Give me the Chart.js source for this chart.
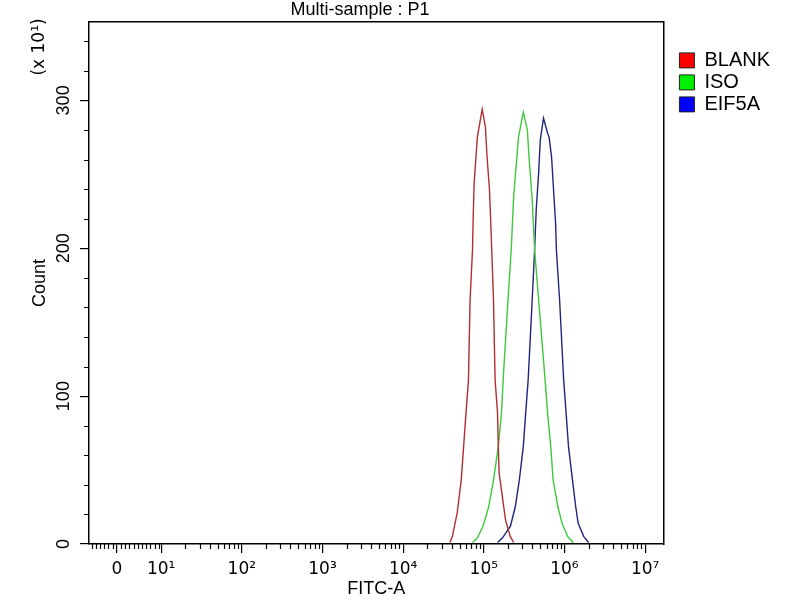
<!DOCTYPE html>
<html>
<head>
<meta charset="utf-8">
<title>Multi-sample : P1</title>
<script src="https://cdn.jsdelivr.net/npm/chart.js@4.4.0/dist/chart.umd.min.js"></script>
<style>
  html, body { margin: 0; padding: 0; background: #fff; }
  #wrap { width: 800px; height: 600px; }
</style>
</head>
<body>
<div id="wrap"><canvas id="flow"></canvas></div>
<script>
// x = position on the FITC-A axis in decades (log10), y = count (x 10^1)
const seriesNames = ["BLANK", "ISO", "EIF5A"];

const blankX = [4.58, 4.61, 4.67, 4.72, 4.75, 4.78, 4.81, 4.83, 4.86, 4.87, 4.88, 4.92, 4.98,
                5.02, 5.04, 5.07, 5.09, 5.12, 5.14, 5.17, 5.18, 5.19, 5.23, 5.27, 5.33, 5.37];
const blankY = [1, 5, 21, 43, 66, 89, 111, 165, 199, 224, 244, 275, 294,
                282, 262, 240, 212, 165, 111, 89, 66, 48, 32, 16, 5, 1];

const isoX = [4.86, 4.92, 4.99, 5.06, 5.12, 5.18, 5.22, 5.24, 5.30, 5.34, 5.37, 5.43, 5.49,
              5.54, 5.56, 5.60, 5.63, 5.68, 5.76, 5.79, 5.83, 5.86, 5.92, 5.97, 6.04, 6.11];
const isoY = [1, 4, 12, 25, 43, 66, 89, 111, 165, 199, 235, 275, 292,
              280, 262, 233, 199, 165, 111, 89, 66, 43, 25, 14, 5, 1];

const eifX = [5.17, 5.23, 5.33, 5.39, 5.44, 5.49, 5.52, 5.55, 5.60, 5.63, 5.65, 5.68, 5.70, 5.74,
              5.76, 5.79, 5.81, 5.84, 5.86, 5.89, 5.90, 5.94, 5.99, 6.02, 6.05, 6.10, 6.14, 6.17, 6.24, 6.30];
const eifY = [1, 4, 12, 25, 43, 66, 89, 111, 165, 199, 226, 251, 273, 288,
              284, 278, 275, 262, 244, 217, 199, 165, 111, 89, 66, 43, 25, 14, 5, 1];

const xTickPos = [0.45, 1, 2, 3, 4, 5, 6, 7];
const xTickLabels = ["0", "10¹", "10²", "10³", "10⁴", "10⁵", "10⁶", "10⁷"];
const yTickPos = [0, 100, 200, 300];
const yTickLabels = ["0", "100", "200", "300"];

const lineColors = ["#b02e2e", "#3dc93d", "#23237f"];
const boxColors = ["#ff0000", "#00ee00", "#0000ff"];

const FONT = "'Liberation Sans', Arial, sans-serif";
const SUP_FONT = "'DejaVu Sans', 'Liberation Sans', sans-serif";
Chart.defaults.font.family = FONT;
Chart.defaults.color = "#000";

// minor tick positions (short ticks)
const xMinor = [];
for (let k = -6; k <= 10; k++) if (k !== 0) xMinor.push(0.45 + k * 0.052);
for (let d = 1; d <= 6; d++) for (let m = 2; m <= 9; m++) xMinor.push(d + Math.log10(m));
const yMinor = [];
for (let v = 20; v <= 340; v += 20) if (v % 100 !== 0) yMinor.push(v);

const pts = (xs, ys) => xs.map((x, i) => ({ x: x, y: ys[i] }));

// short ticks + title texts
const frameExtras = {
    id: "frameExtras",
    afterDraw(chart) {
        const { ctx, chartArea: a, scales: { x, y } } = chart;
        ctx.save();
        ctx.strokeStyle = "#000";
        ctx.lineWidth = 1.2;
        ctx.beginPath();
        xMinor.forEach(v => {
            const px = Math.round(x.getPixelForValue(v)) + 0.5;
            ctx.moveTo(px, a.bottom);
            ctx.lineTo(px, a.bottom + 5);
        });
        yMinor.forEach(v => {
            const py = Math.round(y.getPixelForValue(v)) + 0.5;
            ctx.moveTo(a.left - 5, py);
            ctx.lineTo(a.left, py);
        });
        ctx.stroke();

        ctx.fillStyle = "#000";
        ctx.font = "18px " + FONT;
        ctx.textAlign = "center";
        ctx.textBaseline = "alphabetic";
        ctx.fillText("Multi-sample : P1", 360, 15);

        ctx.translate(40, 47);
        ctx.rotate(-Math.PI / 2);
        ctx.textBaseline = "middle";
        ctx.font = "17px " + SUP_FONT;
        ctx.fillText("(x 10¹)", 0, 0);
        ctx.restore();
    }
};

const sideAxis = (pos, fit) => ({
    type: "linear",
    position: pos,
    afterFit: fit,
    ticks: { display: false },
    grid: { display: false, drawTicks: false },
    border: { display: true, color: "#000", width: 1.5 }
});

new Chart(document.getElementById("flow"), {
    type: "line",
    data: {
        datasets: [
            { label: seriesNames[0], data: pts(blankX, blankY), borderColor: lineColors[0], backgroundColor: boxColors[0] },
            { label: seriesNames[1], data: pts(isoX, isoY), borderColor: lineColors[1], backgroundColor: boxColors[1] },
            { label: seriesNames[2], data: pts(eifX, eifY), borderColor: lineColors[2], backgroundColor: boxColors[2] }
        ]
    },
    options: {
        responsive: true,
        maintainAspectRatio: false,
        animation: false,
        layout: { padding: { top: 22, right: 20, bottom: 0, left: 0 } },
        elements: {
            point: { radius: 0 },
            line: { borderWidth: 1.4, tension: 0, fill: false }
        },
        scales: {
            x: {
                type: "linear",
                position: "bottom",
                min: 0.105,
                max: 7.227,
                afterBuildTicks: s => { s.ticks = xTickPos.map(v => ({ value: v })); },
                afterFit: s => { s.height = 56; },
                ticks: {
                    callback: (v, i) => xTickLabels[i],
                    autoSkip: false,
                    maxRotation: 0,
                    padding: 6,
                    font: { family: SUP_FONT, size: 17 }
                },
                grid: { display: true, drawOnChartArea: false, tickLength: 9, color: "#000", lineWidth: 1.2 },
                border: { display: true, color: "#000", width: 1.5 },
                title: { display: true, text: "FITC-A", font: { size: 18 }, padding: { top: 0, bottom: 0 } }
            },
            y: {
                type: "linear",
                position: "left",
                min: 0,
                max: 353,
                afterBuildTicks: s => { s.ticks = yTickPos.map(v => ({ value: v })); },
                afterFit: s => { s.width = 89; },
                ticks: {
                    callback: (v, i) => yTickLabels[i],
                    minRotation: 90,
                    maxRotation: 90,
                    crossAlign: "center",
                    padding: 1,
                    font: { size: 18 }
                },
                grid: { display: true, drawOnChartArea: false, tickLength: 9, color: "#000", lineWidth: 1.2 },
                border: { display: true, color: "#000", width: 1.5 },
                title: { display: true, text: "Count", font: { size: 18 }, padding: { top: 29, bottom: 0 } }
            },
            x2: sideAxis("top", s => { s.height = 0; }),
            y2: sideAxis("right", s => { s.width = 14; })
        },
        plugins: {
            legend: {
                position: "right",
                align: "start",
                title: { display: true, text: " ", padding: { top: 12, bottom: 0 } },
                labels: {
                    boxWidth: 15,
                    boxHeight: 15,
                    padding: 2,
                    color: "#000",
                    font: { size: 20 },
                    generateLabels: chart => chart.data.datasets.map((ds, i) => ({
                        text: ds.label,
                        fillStyle: boxColors[i],
                        strokeStyle: "#222",
                        lineWidth: 1,
                        hidden: false,
                        datasetIndex: i
                    }))
                }
            },
            tooltip: { enabled: false }
        }
    },
    plugins: [frameExtras]
});
</script>
</body>
</html>
